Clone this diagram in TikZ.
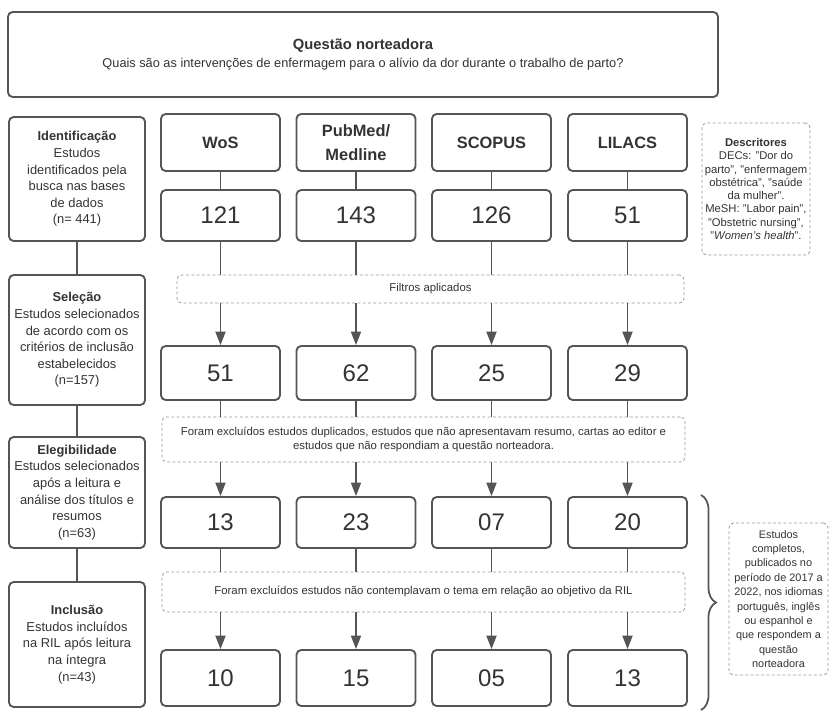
\documentclass[tikz,border=0pt]{standalone}
\usepackage{fontspec}
\setmainfont{Liberation Sans}
\usetikzlibrary{arrows.meta,decorations.pathreplacing}
\definecolor{linegray}{HTML}{555555}
\definecolor{dashgray}{HTML}{9A9A9A}
\definecolor{textgray}{HTML}{333333}

\begin{document}
\begin{tikzpicture}[
  x=0.03cm, y=-0.03cm,
  text=textgray,
  box/.style={draw=linegray, line width=1.6pt, rounded corners=4pt, align=center, inner sep=2pt},
  stage/.style={box, minimum width=4.08cm, font=\fontsize{11}{14.2}\selectfont},
  base/.style={box, minimum width=3.57cm, minimum height=1.71cm, font=\fontsize{14}{20}\selectfont\bfseries},
  count/.style={box, minimum width=3.57cm, minimum height=1.53cm, font=\fontsize{20.5}{24}\selectfont},
  filter/.style={draw=dashgray, line width=0.7pt, dash pattern=on 2.5pt off 2pt, rounded corners=4pt, align=center, font=\fontsize{9.7}{11.9}\selectfont},
  note/.style={filter, inner sep=1pt},
  link/.style={draw=linegray, line width=1.4pt},
  arrow/.style={link, -{Triangle[length=4mm,width=3mm]}}
]
\useasboundingbox (0,0) rectangle (839,719);
% question
\node[box, minimum width=21.3cm, minimum height=2.55cm, font=\fontsize{10.9}{15.3}\selectfont] (question) at (363,54.5)
  {{\fontsize{12.6}{15.3}\selectfont\bfseries Questão norteadora}\\Quais são as intervenções de enfermagem para o alívio da dor durante o trabalho de parto?};
% stages
\node[stage, minimum height=3.72cm] (ident) at (77,179) {\textbf{Identificação}\\Estudos\\identificados pela\\busca nas bases\\de dados\\(n= 441)};
\node[stage, minimum height=3.9cm] (sel) at (77,340) {\textbf{Seleção}\\Estudos selecionados\\de acordo com os\\critérios de inclusão\\estabelecidos\\(n=157)};
\node[stage, minimum height=3.33cm] (eleg) at (77,492.5) {\textbf{Elegibilidade}\\Estudos selecionados\\após a leitura e\\análise dos títulos e\\resumos\\(n=63)};
\node[stage, minimum height=3.75cm] (incl) at (77,644.5) {\textbf{Inclusão}\\Estudos incluídos\\na RIL após leitura\\na íntegra\\(n=43)};
\draw[link] (ident) -- (sel);
\draw[link] (sel) -- (eleg);
\draw[link] (eleg) -- (incl);
% databases
\node[base] (wos) at (220.5,142.5) {WoS};
\node[base] (pubmed) at (356,142.5) {PubMed/\\Medline};
\node[base] (scopus) at (491.5,142.5) {SCOPUS};
\node[base] (lilacs) at (627.5,142.5) {LILACS};
% counts
\node[count] (wos1) at (220.5,215.5) {121};
\node[count] (pubmed1) at (356,215.5) {143};
\node[count] (scopus1) at (491.5,215.5) {126};
\node[count] (lilacs1) at (627.5,215.5) {51};
\node[count, minimum height=1.62cm] (wos2) at (220.5,373) {51};
\node[count, minimum height=1.62cm] (pubmed2) at (356,373) {62};
\node[count, minimum height=1.62cm] (scopus2) at (491.5,373) {25};
\node[count, minimum height=1.62cm] (lilacs2) at (627.5,373) {29};
\node[count] (wos3) at (220.5,522.5) {13};
\node[count] (pubmed3) at (356,522.5) {23};
\node[count] (scopus3) at (491.5,522.5) {07};
\node[count] (lilacs3) at (627.5,522.5) {20};
\node[count, minimum height=1.68cm] (wos4) at (220.5,678) {10};
\node[count, minimum height=1.68cm] (pubmed4) at (356,678) {15};
\node[count, minimum height=1.68cm] (scopus4) at (491.5,678) {05};
\node[count, minimum height=1.68cm] (lilacs4) at (627.5,678) {13};
% filters
\node[filter, minimum width=15.21cm, minimum height=0.84cm] (filt1) at (430.5,289) {Filtros aplicados};
\node[filter, minimum width=15.69cm, minimum height=1.35cm] (filt2) at (423.5,439.5)
  {Foram excluídos estudos duplicados, estudos que não apresentavam resumo, cartas ao editor e\\estudos que não respondiam a questão norteadora.};
\node[filter, minimum width=15.69cm, minimum height=1.2cm] (filt3) at (423.5,592)
  {Foram excluídos estudos não contemplavam o tema em relação ao objetivo da RIL};
\foreach \db in {wos,pubmed,scopus,lilacs}{
  \draw[link] (\db) -- (\db1);
  \draw[link] (\db1) -- (\db1.south |- filt1.north);
  \draw[arrow] (\db2.north |- filt1.south) -- (\db2);
  \draw[link] (\db2) -- (\db2.south |- filt2.north);
  \draw[arrow] (\db3.north |- filt2.south) -- (\db3);
  \draw[link] (\db3) -- (\db3.south |- filt3.north);
  \draw[arrow] (\db4.north |- filt3.south) -- (\db4);
}
% notes
\node[note, minimum width=3.24cm, minimum height=3.96cm, font=\fontsize{9.6}{11.3}\selectfont] (descr) at (756,189)
  {\textbf{Descritores}\\DECs: "Dor do\\parto", "enfermagem\\obstétrica", "saúde\\da mulher".\\MeSH: "Labor pain",\\"Obstetric nursing",\\"\textit{Women's health}".};
\coordinate (bracetop) at (701,495);
\coordinate (bracebot) at (701,710);
\draw[link, line width=1.5pt, decorate, decoration={brace, amplitude=0.45cm}] (bracetop) -- (bracebot);
\node[note, minimum width=2.97cm, minimum height=4.56cm, font=\fontsize{9.3}{12.3}\selectfont] (criteria) at (778.5,599)
  {Estudos\\completos,\\publicados no\\período de 2017 a\\2022, nos idiomas\\português, inglês\\ou espanhol e\\que respondem a\\questão\\norteadora};
\end{tikzpicture}
\end{document}
